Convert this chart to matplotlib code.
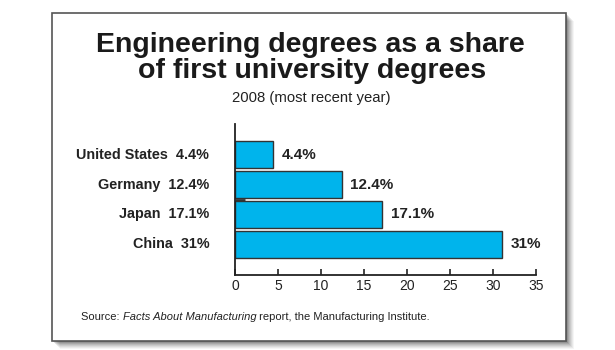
import matplotlib.pyplot as plt
from matplotlib.patches import Rectangle

countries = ["United States", "Germany", "Japan", "China"]
shares = [4.4, 12.4, 17.1, 31]
value_labels = ["4.4%", "12.4%", "17.1%", "31%"]
xticks = [0, 5, 10, 15, 20, 25, 30, 35]

plt.rcParams["font.family"] = ["Liberation Sans", "DejaVu Sans"]
W, H = 615, 350
fig = plt.figure(figsize=(W / 100, H / 100), dpi=100)
fig.patch.set_facecolor("white")

# frame with soft drop shadow
bx0, by0, bx1, by1 = 52, 13, 566, 341
for k, a in zip(range(8, 0, -1), [0.04, 0.05, 0.06, 0.07, 0.08, 0.10, 0.12, 0.15]):
    fig.patches.append(Rectangle(((bx0 + k) / W, 1 - (by1 + k) / H), (bx1 - bx0) / W, (by1 - by0) / H,
                                 transform=fig.transFigure, facecolor="black", edgecolor="none",
                                 alpha=a, zorder=0))
fig.patches.append(Rectangle((bx0 / W, 1 - by1 / H), (bx1 - bx0) / W, (by1 - by0) / H,
                             transform=fig.transFigure, facecolor="white", edgecolor="#555555",
                             linewidth=1.2, zorder=1))

ax = fig.add_axes([235 / W, 1 - 275 / H, (536 - 235) / W, (275 - 124) / H], zorder=2)
ax.set_facecolor("none")

ypos = list(range(len(countries)))[::-1]
ax.barh(ypos, shares, height=0.9, color="#00b4ec", edgecolor="#333333", linewidth=1.0)

ax.set_xlim(0, 35)
ax.set_ylim(-1.017, 4.017)
ax.set_xticks(xticks)
ax.set_xticklabels([str(t) for t in xticks], fontsize=10, color="#222222")
ax.tick_params(axis="x", direction="in", length=4, width=1.2, pad=3, colors="#222222")
ax.set_yticks([1.5])
ax.set_yticklabels([""])
ax.tick_params(axis="y", direction="in", length=7, width=2, colors="#333333")
for s in ["top", "right"]:
    ax.spines[s].set_visible(False)
for s in ["left", "bottom"]:
    ax.spines[s].set_linewidth(1.3)
    ax.spines[s].set_color("#222222")

for y, v, lab, c in zip(ypos, shares, value_labels, countries):
    ax.text(v + 1.0, y, lab, ha="left", va="center", fontsize=11, fontweight="bold", color="#222222")
    ax.text(-3.0, y, c + "  " + lab, ha="right", va="center", fontsize=10.4, fontweight="bold",
            color="#222222", clip_on=False)

fig.text(310 / W, 1 - 45 / H, "Engineering degrees as a share", ha="center", va="center",
         fontsize=20.5, fontweight="bold", color="#1a1a1a")
fig.text(312 / W, 1 - 71 / H, "of first university degrees", ha="center", va="center",
         fontsize=20.5, fontweight="bold", color="#1a1a1a")
fig.text(311 / W, 1 - 98 / H, "2008 (most recent year)", ha="center", va="center",
         fontsize=10.7, color="#222222")

# source line: regular / italic / regular pieces placed side by side
renderer = fig.canvas.get_renderer()
x = 81
for piece, style in [("Source: ", "normal"), ("Facts About Manufacturing", "italic"),
                     (" report, the Manufacturing Institute.", "normal")]:
    t = fig.text(x / W, 1 - 317 / H, piece, ha="left", va="center", fontsize=8.0,
                 style=style, color="#222222")
    x += t.get_window_extent(renderer).width

fig.savefig("out.png", dpi=100)
